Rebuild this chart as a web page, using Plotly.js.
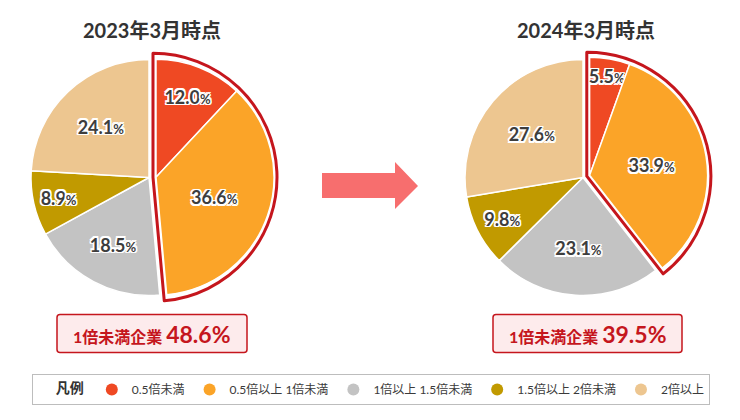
<!DOCTYPE html>
<html>
<head>
<meta charset="utf-8">
<script src="https://cdn.plot.ly/plotly-3.0.1.min.js"></script>
<style>
  html, body { margin: 0; padding: 0; background: #fff; }
  #chart { width: 740px; height: 420px; }
</style>
</head>
<body>
<div id="chart"></div>
<script>
// data
const categories = ["0.5倍未満", "0.5倍以上 1倍未満", "1倍以上 1.5倍未満", "1.5倍以上 2倍未満", "2倍以上"]
const share2023 = [12.0, 36.6, 18.5, 8.9, 24.1]
const share2024 = [5.5, 33.9, 23.1, 9.8, 27.6]
const periodTitles = ["2023年3月時点", "2024年3月時点"]
const underOneTotals = [48.6, 39.5]   // printed in the red boxes
const underOneCount = 2               // first two categories = below 1x

// look
const colors = ["#EF4923", "#FBA428", "#C3C3C3", "#C19A00", "#EDC690"]
const red = "#C5161D"
const FONT = "Lato, 'Noto Sans CJK JP', sans-serif"
const W = 740, H = 420
const NONE = "rgba(0,0,0,0)"

// pie placement in pixels
const pies = [
  {values: share2023, cx: 149, cy: 177.5},
  {values: share2024, cx: 583, cy: 177.5}
]
const radius = 118
const pullPx = 7
const outlineGap = 3

function domainFor(cx, cy, r) {
    return {
        x: [(cx - r) / W, (cx + r) / W],
        y: [1 - (cy + r) / H, 1 - (cy - r) / H]
    }
}

const labelTpl = "%{value:.1f}<span style='font-size:13px'>%</span>"
const textFont = {
    family: FONT, size: 18, color: "#3d3d3d", weight: 700,
    shadow: "1.5px 1.5px 0 #fff, -1.5px -1.5px 0 #fff, 1.5px -1.5px 0 #fff, -1.5px 1.5px 0 #fff, 0 1.5px 0 #fff, 0 -1.5px 0 #fff, 1.5px 0 0 #fff, -1.5px 0 0 #fff"
}

let traces = []

pies.forEach(function(p, k) {
    let vals = p.values
    let isPulled = vals.map((v, i) => i < underOneCount)
    let total = vals.reduce((a, b) => a + b, 0)
    let underSum = vals.slice(0, underOneCount).reduce((a, b) => a + b, 0)
    // direction of the pulled group (middle of its arc), clockwise from 12 o'clock
    let theta = Math.PI * underSum / total
    let ux = Math.sin(theta), uy = -Math.cos(theta)

    let common = {
        type: "pie", labels: categories, values: vals, sort: false,
        direction: "clockwise", rotation: 0, hoverinfo: "skip",
        showlegend: false, textposition: "inside",
        insidetextorientation: "horizontal", textfont: textFont
    }

    // rest of the pie
    traces.push(Object.assign({}, common, {
        domain: domainFor(p.cx, p.cy, radius),
        marker: {
            colors: colors.map((c, i) => isPulled[i] ? NONE : c),
            line: {color: "#fff", width: isPulled.map(f => f ? 0 : 1.5)}
        },
        texttemplate: isPulled.map(f => f ? "" : labelTpl)
    }))

    // pulled group (below 1x)
    let pcx = p.cx + pullPx * ux, pcy = p.cy + pullPx * uy
    traces.push(Object.assign({}, common, {
        domain: domainFor(pcx, pcy, radius),
        marker: {
            colors: colors.map((c, i) => isPulled[i] ? c : NONE),
            line: {color: "#fff", width: isPulled.map(f => f ? 1.5 : 0)}
        },
        texttemplate: isPulled.map(f => f ? labelTpl : "")
    }))

    // red outline round the pulled group
    let ocx = p.cx + (pullPx - outlineGap) * ux, ocy = p.cy + (pullPx - outlineGap) * uy
    traces.push({
        type: "pie", labels: ["under", "rest"], values: [underSum, total - underSum],
        sort: false, direction: "clockwise", rotation: 0, hoverinfo: "skip",
        showlegend: false, textinfo: "none",
        domain: domainFor(ocx, ocy, radius + outlineGap * 2),
        marker: {colors: [NONE, NONE], line: {color: [red, NONE], width: [3, 0]}}
    })
})

// legend entries (circles)
categories.forEach(function(c, i) {
    traces.push({
        type: "scatter", x: [null], y: [null], mode: "markers", name: c,
        marker: {color: colors[i], size: 12}, hoverinfo: "skip"
    })
})

function roundRect(x0, y0, x1, y1, r) {
    return "M" + (x0 + r) + "," + y0 + " L" + (x1 - r) + "," + y0 + " Q" + x1 + "," + y0 + " " + x1 + "," + (y0 + r) +
        " L" + x1 + "," + (y1 - r) + " Q" + x1 + "," + y1 + " " + (x1 - r) + "," + y1 +
        " L" + (x0 + r) + "," + y1 + " Q" + x0 + "," + y1 + " " + x0 + "," + (y1 - r) +
        " L" + x0 + "," + (y0 + r) + " Q" + x0 + "," + y0 + " " + (x0 + r) + "," + y0 + " Z"
}

const boxes = [{x0: 57, x1: 247}, {x0: 493, x1: 682}]
const boxY = [314.5, 352.5]

let shapes = [
    {type: "path", xref: "x", yref: "y", line: {width: 0}, fillcolor: "#F76E6E",
     path: "M322,173 L395,173 L395,162 L418,186 L395,209 L395,198 L322,198 Z"}
]
boxes.forEach(function(b) {
    shapes.push({type: "path", xref: "x", yref: "y", fillcolor: "#FDEBEC",
        line: {color: red, width: 1.5}, path: roundRect(b.x0, boxY[0], b.x1, boxY[1], 3)})
})

let annotations = []
periodTitles.forEach(function(t, k) {
    annotations.push({xref: "x", yref: "y", x: [151.5, 586][k], y: 30, text: t, showarrow: false,
        font: {family: FONT, size: 20, color: "#333", weight: 700}})
})
underOneTotals.forEach(function(v, k) {
    let b = boxes[k]
    annotations.push({xref: "x", yref: "y", x: (b.x0 + b.x1) / 2, y: (boxY[0] + boxY[1]) / 2,
        text: "1倍未満企業 <span style='font-size:23px'>" + v.toFixed(1) + "%</span>", showarrow: false,
        font: {family: FONT, size: 16, color: red, weight: 700}})
})

const layout = {
    width: W, height: H,
    margin: {l: 0, r: 0, t: 0, b: 0},
    paper_bgcolor: "#fff", plot_bgcolor: "#fff",
    xaxis: {range: [0, W], visible: false, fixedrange: true},
    yaxis: {range: [H, 0], visible: false, fixedrange: true},
    showlegend: true,
    uniformtext: {mode: "show", minsize: 18},
    legend: {
        orientation: "h", x: 32 / W, xanchor: "left", y: 1 - 374 / H, yanchor: "top",
        bordercolor: "#bdbdbd", borderwidth: 1, bgcolor: "#fff",
        font: {family: FONT, size: 12, color: "#3a3a3a"},
        title: {text: "\u3000\u00a0\u00a0凡例", side: "left", font: {family: FONT, size: 14, color: "#333", weight: 700}},
        itemwidth: 30
    },
    shapes: shapes,
    annotations: annotations
}

Plotly.newPlot("chart", traces, layout, {staticPlot: true})
</script>
</body>
</html>
